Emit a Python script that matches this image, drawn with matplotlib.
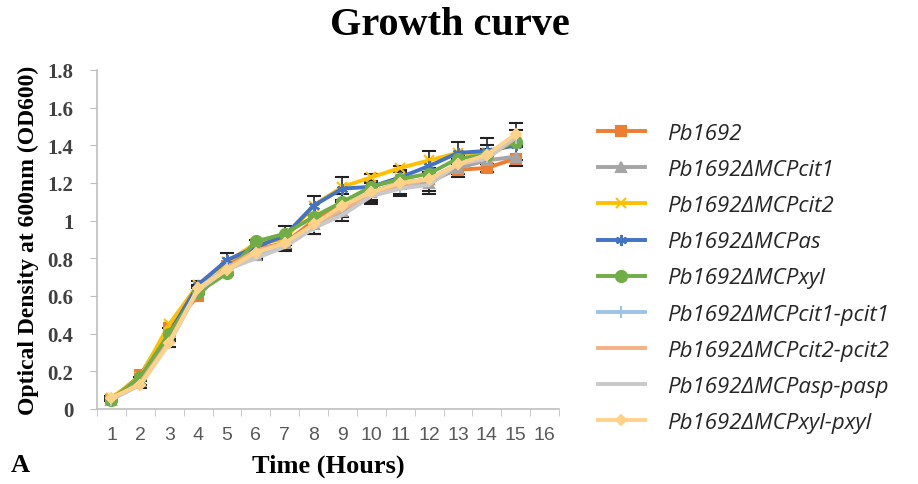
import numpy as np
import matplotlib.pyplot as plt
from matplotlib.ticker import FixedLocator, FuncFormatter

hours = list(range(1, 16))

names = ["Pb1692", "Pb1692ΔMCPcit1", "Pb1692ΔMCPcit2", "Pb1692ΔMCPas", "Pb1692ΔMCPxyl",
         "Pb1692ΔMCPcit1-pcit1", "Pb1692ΔMCPcit2-pcit2", "Pb1692ΔMCPasp-pasp", "Pb1692ΔMCPxyl-pxyl"]

od_wt    = [0.05, 0.18, 0.43, 0.60, 0.76, 0.85, 0.88, 1.00, 1.08, 1.15, 1.20, 1.22, 1.27, 1.28, 1.33]
od_cit1  = [0.05, 0.15, 0.38, 0.63, 0.74, 0.82, 0.88, 0.98, 1.05, 1.15, 1.20, 1.20, 1.28, 1.32, 1.34]
od_cit2  = [0.06, 0.17, 0.45, 0.66, 0.78, 0.88, 0.90, 1.08, 1.18, 1.23, 1.28, 1.32, 1.36, 1.36, 1.42]
od_as    = [0.05, 0.15, 0.40, 0.66, 0.79, 0.86, 0.92, 1.08, 1.17, 1.18, 1.23, 1.29, 1.36, 1.37, 1.40]
od_xyl   = [0.05, 0.17, 0.40, 0.62, 0.72, 0.89, 0.93, 1.02, 1.10, 1.18, 1.22, 1.25, 1.33, 1.35, 1.42]
od_pcit1 = [0.05, 0.13, 0.35, 0.64, 0.75, 0.82, 0.88, 0.97, 1.06, 1.15, 1.18, 1.22, 1.30, 1.34, 1.44]
od_pcit2 = [0.05, 0.14, 0.36, 0.63, 0.75, 0.84, 0.88, 0.98, 1.06, 1.15, 1.19, 1.22, 1.30, 1.33, 1.44]
od_pasp  = [0.05, 0.13, 0.35, 0.63, 0.74, 0.80, 0.86, 0.96, 1.03, 1.13, 1.17, 1.19, 1.30, 1.33, 1.45]
od_pxyl  = [0.06, 0.13, 0.35, 0.64, 0.74, 0.83, 0.88, 0.98, 1.08, 1.15, 1.20, 1.22, 1.30, 1.35, 1.46]

# standard deviations (only a few series show visible bars)
err_as   = [0.01, 0.02, 0.03, 0.02, 0.04, 0.04, 0.05, 0.05, 0.06, 0.07, 0.06, 0.08, 0.06, 0.07, 0.08]
err_cit1 = [0.01, 0.02, 0.02, 0.02, 0.03, 0.03, 0.04, 0.05, 0.05, 0.05, 0.06, 0.06, 0.05, 0.06, 0.05]
err_pxyl = [0.01, 0.02, 0.02, 0.02, 0.03, 0.03, 0.03, 0.05, 0.06, 0.06, 0.07, 0.06, 0.05, 0.05, 0.06]

series = [od_wt, od_cit1, od_cit2, od_as, od_xyl, od_pcit1, od_pcit2, od_pasp, od_pxyl]
errors = [None, err_cit1, None, err_as, None, None, None, None, err_pxyl]
colors = ["#ED7D31", "#A5A5A5", "#FFC000", "#4472C4", "#70AD47",
          "#9DC3E6", "#F4B183", "#C9C9C9", "#FFD28A"]
markers = ["s", "^", "x", (6, 2, 0), "o", "|", None, None, "D"]
msizes = [7, 7, 7, 8, 8, 8, 0, 0, 5]

fig = plt.figure(figsize=(9.18, 4.85), dpi=100)
ax = fig.add_axes([97/918, 75/485, 462/918, 339/485])

for vals, err, c, m, ms, lab in zip(series, errors, colors, markers, msizes, names):
    ax.plot(hours, vals, color=c, lw=2.8, marker=m, ms=ms, mew=1.5,
            mfc=c, mec=c, label=lab, zorder=3)
    if err is not None:
        ax.errorbar(hours, vals, yerr=err, fmt="none", ecolor="#222222",
                    elinewidth=1.2, capsize=5, capthick=1.5, zorder=2)

ax.set_xlim(0.5, 16.5)
ax.set_ylim(0, 1.8)
ax.set_xticks(range(1, 17))
ax.xaxis.set_minor_locator(FixedLocator(np.arange(0.5, 17, 1)))
ax.tick_params(axis="x", which="major", length=0, pad=12, labelsize=14, colors="#595959")
ax.tick_params(axis="x", which="minor", length=5, color="#BFBFBF")
for t in ax.get_xticklabels():
    t.set_family("Liberation Sans")

ax.set_yticks(np.arange(0, 1.81, 0.2))
ax.yaxis.set_major_formatter(FuncFormatter(lambda v, p: ("%.1f" % v).rstrip("0").rstrip(".")))
ax.tick_params(axis="y", length=5, color="#BFBFBF", labelsize=15, colors="#404040", pad=12)
for t in ax.get_yticklabels():
    t.set_family("Liberation Serif")
    t.set_weight("bold")

for s in ["top", "right"]:
    ax.spines[s].set_visible(False)
ax.spines["left"].set_color("#BFBFBF")
ax.spines["bottom"].set_color("#BFBFBF")
ax.spines["left"].set_linewidth(1.2)
ax.spines["bottom"].set_linewidth(1.2)

ax.set_ylabel("Optical Density at 600nm (OD600)", family="Liberation Serif",
              weight="bold", fontsize=17, labelpad=6)
ax.set_xlabel("Time (Hours)", family="Liberation Serif", weight="bold", fontsize=19, labelpad=8)
fig.text(0.49, 0.948, "Growth curve", family="Liberation Serif", weight="bold",
         fontsize=29, ha="center", va="center")
fig.text(0.012, 0.04, "A", family="Liberation Serif", weight="bold", fontsize=19,
         ha="left", va="center")

leg = ax.legend(loc="upper left", bbox_to_anchor=(578/918, 1 - 104/485),
                bbox_transform=fig.transFigure, frameon=False, handlelength=2.1,
                handletextpad=1.0, labelspacing=0.68,
                prop={"family": "Open Sans", "style": "italic", "size": 16})
for t in leg.get_texts():
    t.set_color("#262626")

fig.savefig("out.png", dpi=100)
